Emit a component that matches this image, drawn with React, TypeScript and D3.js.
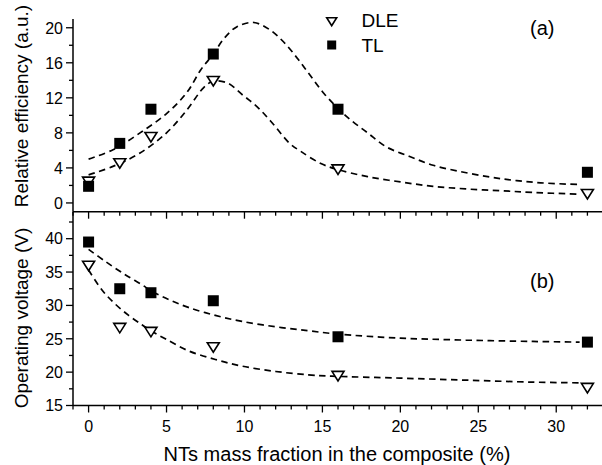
import * as d3 from "d3";

// NTs mass fraction (%), shared by both panels
const fractions = [0, 2, 4, 8, 16, 32];

// (a) relative efficiency, a.u.
const effDLE = [2.4, 4.5, 7.5, 13.9, 3.8, 1.0];
const effTL = [1.9, 6.8, 10.7, 17.0, 10.7, 3.5];

// (b) operating voltage, V
const voltDLE = [35.9, 26.6, 26.0, 23.7, 19.4, 17.6];
const voltTL = [39.5, 32.5, 31.9, 30.7, 25.3, 24.5];

// fitted curves: [fraction, value]
const fitEffTL: [number, number][] = [
  [0, 5.0], [1.6, 6.1], [3.3, 8.0], [5, 10.2], [6.3, 12.6], [7.2, 15.2], [8, 17.0],
  [8.7, 18.8], [9.5, 20.1], [10.6, 20.6], [11.6, 19.8], [12.5, 18.4], [13.4, 16.5],
  [14.2, 14.6], [15.1, 12.5], [16, 10.8], [16.8, 9.5], [17.9, 8.0], [19.1, 6.4],
  [20.6, 5.3], [22.1, 4.3], [23.8, 3.6], [25.6, 3.0], [27.2, 2.6], [29, 2.3], [31.5, 2.1],
];
const fitEffDLE: [number, number][] = [
  [0, 3.2], [1.6, 4.2], [3.3, 5.7], [5, 8.0], [6.3, 10.6], [7.4, 13.2], [8, 13.9],
  [8.9, 13.7], [9.9, 12.3], [10.8, 11.0], [11.7, 9.3], [12.9, 6.8], [13.6, 5.9],
  [14.9, 4.5], [16, 3.8], [17.9, 3.0], [20, 2.4], [22.1, 1.9], [24.2, 1.6],
  [26.4, 1.4], [28.5, 1.2], [31.5, 1.0],
];
const fitVoltTL: [number, number][] = [
  [0, 38.4], [1.07, 36.6], [2.35, 34.6], [3.42, 33.1], [4, 32.2], [5.13, 30.9],
  [6.4, 29.7], [8.13, 28.5], [9.84, 27.6], [12, 26.8], [14.1, 26.2], [16, 25.7],
  [20, 25.1], [24.2, 24.8], [28.5, 24.6], [31.5, 24.5],
];
const fitVoltDLE: [number, number][] = [
  [0, 35.3], [0.86, 32.3], [1.71, 30.2], [2.57, 28.5], [3.42, 27.1], [4, 26.2],
  [4.92, 25.0], [6.4, 23.2], [8.13, 21.9], [9.84, 20.9], [12, 20.1], [14.1, 19.6],
  [15.6, 19.4], [20, 19.1], [24.2, 18.8], [28.5, 18.5], [31.5, 18.4],
];

const xMajor = [0, 5, 10, 15, 20, 25, 30];
const effMajor = [0, 4, 8, 12, 16, 20];
const voltMajor = [15, 20, 25, 30, 35, 40];

const FONT = "Liberation Sans, Arial, Helvetica, sans-serif";
const W = 602;
const H = 465;

const x = d3.scaleLinear().domain([-1, 33]).range([73, 603]);
const yEff = d3.scaleLinear().domain([-1, 21]).range([211.7, 19]);
const yVolt = d3.scaleLinear().domain([15, 44]).range([405.5, 212]);

const triPath = (cx: number, cy: number, w: number, h: number) =>
  `M${cx - w / 2},${cy - h / 2}L${cx + w / 2},${cy - h / 2}L${cx},${cy + h / 2}Z`;

function XTicks({ y }: { y: number }) {
  const minor = d3.range(-1, 34, 1).filter((v) => v % 5 !== 0);
  return (
    <g stroke="#000" strokeWidth={1.3}>
      {minor.map((v) => (
        <line key={"m" + v} x1={x(v)} x2={x(v)} y1={y} y2={y + 4} />
      ))}
      {xMajor.map((v) => (
        <line key={"M" + v} x1={x(v)} x2={x(v)} y1={y} y2={y + 7} />
      ))}
    </g>
  );
}

function YAxis({
  scale,
  major,
  minorStep,
  top,
  bottom,
}: {
  scale: d3.ScaleLinear<number, number>;
  major: number[];
  minorStep: number;
  top: number;
  bottom: number;
}) {
  const [d0, d1] = scale.domain();
  const minor = d3
    .range(Math.ceil(d0 / minorStep) * minorStep, d1 + 1e-6, minorStep)
    .filter((v) => !major.includes(v));
  return (
    <g>
      <line x1={x(-1)} x2={x(-1)} y1={top} y2={bottom} stroke="#000" strokeWidth={1.5} />
      {minor.map((v) => (
        <line key={"m" + v} x1={x(-1) - 4} x2={x(-1)} y1={scale(v)} y2={scale(v)} stroke="#000" strokeWidth={1.3} />
      ))}
      {major.map((v) => (
        <g key={"M" + v}>
          <line x1={x(-1) - 7} x2={x(-1)} y1={scale(v)} y2={scale(v)} stroke="#000" strokeWidth={1.3} />
          <text x={63} y={scale(v)} dy="0.36em" textAnchor="end" fontSize={16} fontFamily={FONT}>
            {v}
          </text>
        </g>
      ))}
    </g>
  );
}

function Series({
  ys,
  scale,
  fit,
  kind,
}: {
  ys: number[];
  scale: d3.ScaleLinear<number, number>;
  fit: [number, number][];
  kind: "tri" | "sq";
}) {
  const line = d3
    .line<[number, number]>()
    .x((d) => x(d[0]))
    .y((d) => scale(d[1]))
    .curve(d3.curveCatmullRom);
  return (
    <g>
      <path d={line(fit) ?? ""} fill="none" stroke="#000" strokeWidth={1.7} strokeDasharray="6.5 4.5" />
      {ys.map((v, i) =>
        kind === "sq" ? (
          <rect key={i} x={x(fractions[i]) - 5.5} y={scale(v) - 5.5} width={11} height={11} fill="#000" />
        ) : (
          <path key={i} d={triPath(x(fractions[i]), scale(v), 12, 9.5)} fill="#fff" stroke="#000" strokeWidth={1.6} />
        )
      )}
    </g>
  );
}

export default function App() {
  return (
    <svg
      width={W}
      height={H}
      viewBox={`0 0 ${W} ${H}`}
      style={{ position: "absolute", left: 0, top: 0, background: "#fff" }}
    >
      <rect width={W} height={H} fill="#fff" />

      {/* panel (a) */}
      <YAxis scale={yEff} major={effMajor} minorStep={2} top={19} bottom={211.7} />
      <line x1={x(-1)} x2={W + 2} y1={211.7} y2={211.7} stroke="#000" strokeWidth={1.5} />
      <XTicks y={211.7} />
      <Series ys={effDLE} scale={yEff} fit={fitEffDLE} kind="tri" />
      <Series ys={effTL} scale={yEff} fit={fitEffTL} kind="sq" />

      {/* panel (b) */}
      <YAxis scale={yVolt} major={voltMajor} minorStep={2.5} top={211.7} bottom={405.5} />
      <line x1={x(-1)} x2={W + 2} y1={405.5} y2={405.5} stroke="#000" strokeWidth={1.5} />
      <XTicks y={405.5} />
      <Series ys={voltDLE} scale={yVolt} fit={fitVoltDLE} kind="tri" />
      <Series ys={voltTL} scale={yVolt} fit={fitVoltTL} kind="sq" />

      {xMajor.map((v) => (
        <text key={v} x={x(v)} y={432} textAnchor="middle" fontSize={16} fontFamily={FONT}>
          {v}
        </text>
      ))}

      <text x={337} y={461} textAnchor="middle" fontSize={20} fontFamily={FONT}>
        NTs mass fraction in the composite (%)
      </text>
      <text transform="translate(28,106) rotate(-90)" textAnchor="middle" fontSize={19} fontFamily={FONT}>
        Relative efficiency (a.u.)
      </text>
      <text transform="translate(28,318) rotate(-90)" textAnchor="middle" fontSize={19} fontFamily={FONT}>
        Operating voltage (V)
      </text>

      {/* legend */}
      <path d={triPath(331.7, 21.7, 10, 8)} fill="#fff" stroke="#000" strokeWidth={1.6} />
      <text x={361.5} y={27} fontSize={19} fontFamily={FONT}>DLE</text>
      <rect x={327.2} y={40.5} width={9} height={9} fill="#000" />
      <text x={361.5} y={52} fontSize={19} fontFamily={FONT}>TL</text>

      <text x={530} y={35} fontSize={20} fontFamily={FONT}>(a)</text>
      <text x={530} y={288} fontSize={20} fontFamily={FONT}>(b)</text>
    </svg>
  );
}
